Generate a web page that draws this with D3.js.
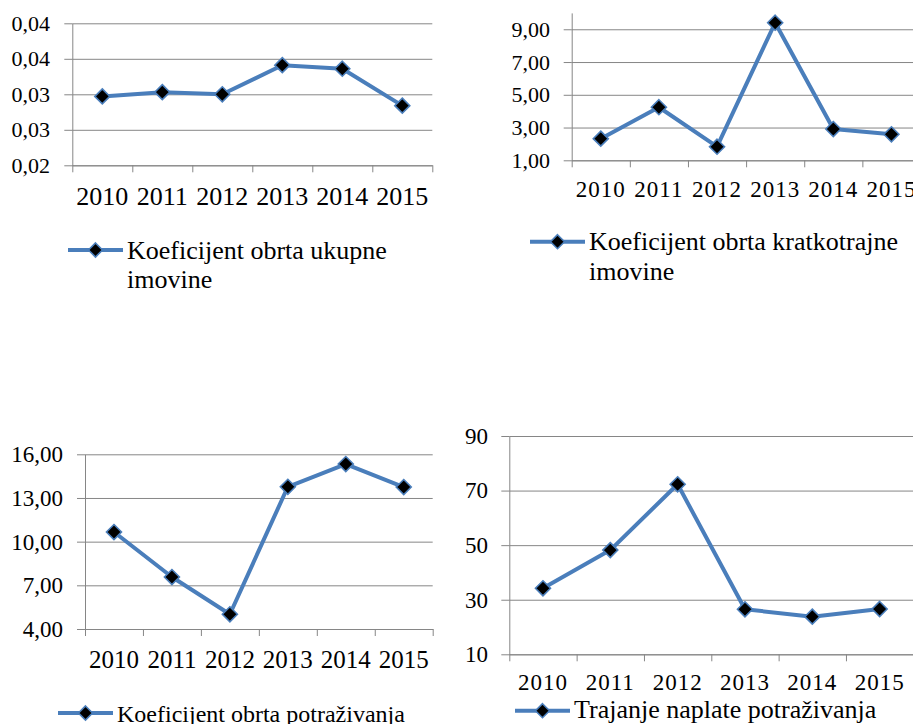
<!DOCTYPE html>
<html>
<head>
<meta charset="utf-8">
<script src="https://cdn.jsdelivr.net/npm/d3@7"></script>
<style>
  body { margin: 0; background: #fff; }
  svg { display: block; }
  text { font-family: "Liberation Serif", "Times New Roman", serif; fill: #000; }
</style>
</head>
<body>
<div id="chart"></div>
<script>
// Categories
var years = ["2010", "2011", "2012", "2013", "2014", "2015"];

// Series values
var ukupneImovine = [0.0297, 0.0303, 0.0300, 0.0341, 0.0336, 0.0284];
var kratkotrajneImovine = [2.32, 4.24, 1.83, 9.40, 2.91, 2.59];
var potrazivanja = [10.66, 7.57, 5.01, 13.77, 15.33, 13.75];
var trajanjeNaplate = [34.2, 48.2, 72.3, 26.5, 23.8, 26.6];

// Tick values and labels
var ticks1 = [0.02, 0.025, 0.03, 0.035, 0.04];
var tickLabels1 = ["0,02", "0,03", "0,03", "0,04", "0,04"];
var ticks2 = [1, 3, 5, 7, 9];
var tickLabels2 = ["1,00", "3,00", "5,00", "7,00", "9,00"];
var ticks3 = [4, 7, 10, 13, 16];
var tickLabels3 = ["4,00", "7,00", "10,00", "13,00", "16,00"];
var ticks4 = [10, 30, 50, 70, 90];
var tickLabels4 = ["10", "30", "50", "70", "90"];

var lineColor = "#4a7ebb";
var gridColor = "#868686";

var svg = d3.select("#chart")
    .append("svg")
    .attr("width", 913)
    .attr("height", 724);

// One small chart per panel
var panels = [
    { values: ukupneImovine, ticks: ticks1, labels: tickLabels1, domain: [0.02, 0.04],
      x0: 72.3, x1: 432.3, yTop: 23.3, yBottom: 165.3, yLabelX: 50, yFont: 22,
      yearBase: 205, yearFont: 26,
      legend: ["Koeficijent obrta ukupne", "imovine"], legX: 68, legY: 250, legBase: 259, legFont: 26, legLead: 29 },
    { values: kratkotrajneImovine, ticks: ticks2, labels: tickLabels2, domain: [1, 10],
      x0: 571.7, x1: 920.5, yTop: 12.9, yBottom: 160.3, yLabelX: 550, yFont: 22,
      yearBase: 197, yearFont: 23, yearSpacing: 1,
      legend: ["Koeficijent obrta kratkotrajne", "imovine"], legX: 530, legY: 241.7, legBase: 250, legFont: 26, legLead: 30 },
    { values: potrazivanja, ticks: ticks3, labels: tickLabels3, domain: [4, 16],
      x0: 85, x1: 432.7, yTop: 454.3, yBottom: 629, yLabelX: 63, yFont: 23,
      yearBase: 668, yearFont: 25,
      legend: ["Koeficijent obrta potraživanja"], legX: 58, legY: 713, legBase: 722, legFont: 24, legLead: 0 },
    { values: trajanjeNaplate, ticks: ticks4, labels: tickLabels4, domain: [10, 90],
      x0: 509.3, x1: 913.3, yTop: 436, yBottom: 654.3, yLabelX: 488, yFont: 23,
      yearBase: 690, yearFont: 23, yearSpacing: 1,
      legend: ["Trajanje naplate potraživanja"], legX: 515, legY: 710.7, legBase: 718, legFont: 26, legLead: 0 }
];

function diamond(g, cx, cy, r) {
    g.append("path")
        .attr("d", "M" + cx + "," + (cy - r) + "L" + (cx + r) + "," + cy +
            "L" + cx + "," + (cy + r) + "L" + (cx - r) + "," + cy + "Z")
        .attr("fill", "#000")
        .attr("stroke", lineColor)
        .attr("stroke-width", 1.6);
}

panels.forEach(function (p) {
    var g = svg.append("g");
    var w = p.x1 - p.x0;

    var x = d3.scaleBand().domain(years).range([p.x0, p.x1]);
    var xEdge = d3.scaleLinear().domain([0, years.length]).range([p.x0, p.x1]);
    var y = d3.scaleLinear().domain(p.domain).range([p.yBottom, p.yTop]);

    // horizontal gridlines
    g.append("g")
        .attr("transform", "translate(" + p.x0 + ",0)")
        .call(d3.axisLeft(y).tickValues(p.ticks).tickSize(-w).tickFormat(""))
        .call(function (a) {
            a.select(".domain").remove();
            a.selectAll("line").attr("stroke", gridColor);
        });

    // y axis with outer tick marks
    g.append("g")
        .attr("transform", "translate(" + p.x0 + ",0)")
        .call(d3.axisLeft(y).tickValues(p.ticks).tickSizeInner(8).tickSizeOuter(0)
            .tickFormat(function (d, i) { return p.labels[i]; }))
        .call(function (a) {
            a.select(".domain").attr("stroke", gridColor);
            a.selectAll("line").attr("stroke", gridColor);
            a.selectAll("text")
                .attr("x", p.yLabelX - p.x0)
                .style("font-size", p.yFont + "px")
                .style("font-family", "'Liberation Serif', serif");
        });

    // x axis: ticks between categories
    g.append("g")
        .attr("transform", "translate(0," + p.yBottom + ")")
        .call(d3.axisBottom(xEdge).tickValues(d3.range(years.length + 1))
            .tickSizeInner(7).tickSizeOuter(0).tickFormat(""))
        .call(function (a) {
            a.select(".domain").attr("stroke", gridColor);
            a.selectAll("line").attr("stroke", gridColor);
        });

    // year labels
    g.selectAll(".year")
        .data(years)
        .enter()
        .append("text")
        .attr("x", function (d) { return x(d) + x.bandwidth() / 2; })
        .attr("y", p.yearBase)
        .attr("text-anchor", "middle")
        .style("font-size", p.yearFont + "px")
        .style("letter-spacing", (p.yearSpacing || 0) + "px")
        .text(function (d) { return d; });

    // series line
    var line = d3.line()
        .x(function (d, i) { return x(years[i]) + x.bandwidth() / 2; })
        .y(function (d) { return y(d); });

    g.append("path")
        .datum(p.values)
        .attr("d", line)
        .attr("fill", "none")
        .attr("stroke", lineColor)
        .attr("stroke-width", 4)
        .attr("stroke-linejoin", "round");

    p.values.forEach(function (v, i) {
        diamond(g, x(years[i]) + x.bandwidth() / 2, y(v), 7.5);
    });

    // legend
    g.append("line")
        .attr("x1", p.legX).attr("x2", p.legX + 55)
        .attr("y1", p.legY).attr("y2", p.legY)
        .attr("stroke", lineColor)
        .attr("stroke-width", 4);
    diamond(g, p.legX + 27.5, p.legY, 7);

    p.legend.forEach(function (t, i) {
        g.append("text")
            .attr("x", p.legX + 59)
            .attr("y", p.legBase + i * p.legLead)
            .style("font-size", p.legFont + "px")
            .text(t);
    });
});
</script>
</body>
</html>
